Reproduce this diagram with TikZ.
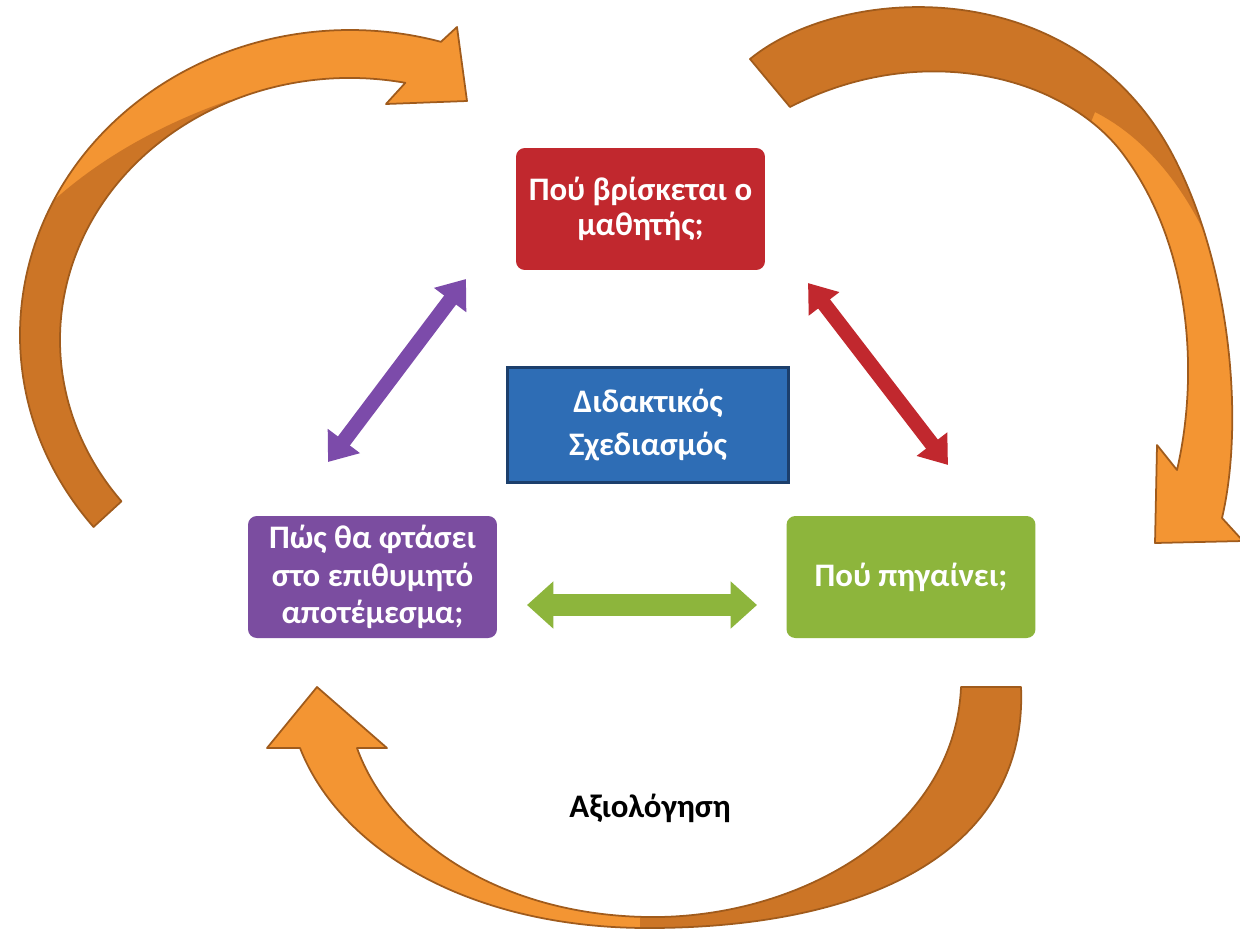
\documentclass[tikz,border=0pt]{standalone}
\usepackage{fontspec}
\setmainfont{Carlito}
\usetikzlibrary{arrows.meta}
\definecolor{boxred}{HTML}{C1282E}
\definecolor{boxblue}{HTML}{2E6DB5}
\definecolor{boxblueline}{HTML}{1C3F6C}
\definecolor{boxpurple}{HTML}{7B4DA0}
\definecolor{boxgreen}{HTML}{8DB53C}
\definecolor{arrpurple}{HTML}{7C4BAA}
\definecolor{orlight}{HTML}{F39533}
\definecolor{ordark}{HTML}{CC7526}
\definecolor{orline}{HTML}{A05B1C}
\begin{document}
\begin{tikzpicture}[x=0.02cm,y=-0.02cm,
  box/.style={rounded corners=5pt, minimum width=4.98cm, minimum height=2.44cm,
    inner sep=0pt, align=center, text=white, font=\bfseries\fontsize{18.7}{20}\selectfont},
  orline/.style={draw=orline, line width=1pt, line join=round}]
\useasboundingbox (0,0) rectangle (1240,931);
\fill[white] (0,0) rectangle (1240,931);

% ---------- orange arrow 1 (top left) ----------
\def\arrowone{([shift={(350,335)}]141:330 and 305)
  arc[start angle=141, end angle=286, x radius=330, y radius=305]
  -- (457,27) -- (467,101) -- (386,104)
  -- ([shift={(350,340)}]-79:290 and 262)
  arc[start angle=-79, end angle=-218, x radius=290, y radius=262] -- cycle}
\fill[orlight] \arrowone;
\begin{scope}
  \clip (0,931) -- (0,260) .. controls (50,190) and (130,135) .. (230,100) -- (240,931) -- cycle;
  \fill[ordark] \arrowone;
\end{scope}
\draw[orline] \arrowone;

% ---------- orange arrow 2 (top right) ----------
\def\arrowtwo{(750,59) .. controls (840,-15) and (1070,-30) .. (1170,150)
  .. controls (1230,260) and (1245,420) .. (1222,518)
  -- (1243,541) -- (1155,543) -- (1157,445) -- (1177,470)
  .. controls (1200,370) and (1190,240) .. (1120,150)
  .. controls (1060,75) and (920,40) .. (790,107) -- cycle}
\fill[orlight] \arrowtwo;
\begin{scope}
  \clip (700,0) -- (1240,0) -- (1240,340) .. controls (1220,240) and (1170,150) .. (1095,112) -- (1060,200) -- (700,200) -- cycle;
  \fill[ordark] \arrowtwo;
\end{scope}
\draw[orline] \arrowtwo;

% ---------- orange arrow 3 (bottom) ----------
\def\arrowthree{(1021,687) .. controls (1028,850) and (870,928) .. (648,928)
  .. controls (470,928) and (340,850) .. (300,748)
  -- (267,748) -- (317,687) -- (387,748) -- (357,748)
  .. controls (390,840) and (500,915) .. (648,917)
  .. controls (800,919) and (955,830) .. (961,687) -- cycle}
\fill[orlight] \arrowthree;
\begin{scope}
  \clip (640,650) rectangle (1240,931);
  \fill[ordark] \arrowthree;
\end{scope}
\draw[orline] \arrowthree;

% ---------- boxes ----------
\node[box, fill=boxred] (where) at (640.5,209) {Πού βρίσκεται ο\\μαθητής;};
\node[box, fill=boxpurple, font=\bfseries\fontsize{18.7}{21.5}\selectfont] (how) at (372.5,577) {Πώς θα φτάσει\\στο επιθυμητό\\αποτέμεσμα;};
\node[box, fill=boxgreen] (goes) at (911,577) {Πού πηγαίνει;};
\node[draw=boxblueline, line width=1.5pt, fill=boxblue, minimum width=5.62cm, minimum height=2.3cm,
  inner sep=0pt, align=center, text=white, font=\bfseries\fontsize{18.7}{25}\selectfont] (plan) at (648,425) {Διδακτικός\\Σχεδιασμός};

\node[font=\bfseries\fontsize{18.7}{20}\selectfont, text=black] (eval) at (650,808) {Αξιολόγηση};

% ---------- double arrows ----------
\coordinate (pa) at (328,462);
\coordinate (pb) at (466,279);
\coordinate (ra) at (808,283);
\coordinate (rb) at (948,465);
\coordinate (ga) at (527,605);
\coordinate (gb) at (757,605);
\draw[arrpurple, line width=8.5pt, {Triangle[length=15pt,width=22pt]}-{Triangle[length=15pt,width=22pt]}] (pa) -- (pb);
\draw[boxred, line width=8.5pt, {Triangle[length=15pt,width=21pt]}-{Triangle[length=15pt,width=21pt]}] (ra) -- (rb);
\draw[boxgreen, line width=12pt, {Triangle[length=15pt,width=26pt]}-{Triangle[length=15pt,width=26pt]}] (ga) -- (gb);
\end{tikzpicture}
\end{document}
